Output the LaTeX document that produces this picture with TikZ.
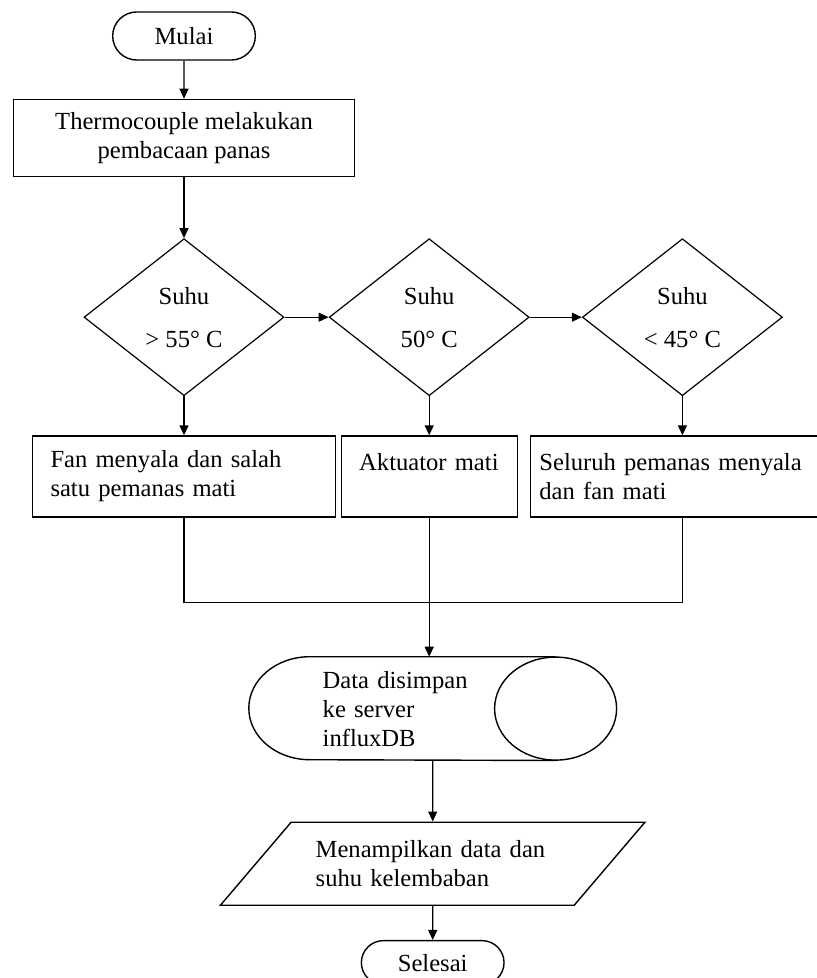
\documentclass[tikz,border=0pt]{standalone}
\usepackage{fontspec}
\setmainfont{Liberation Serif}
\usetikzlibrary{shapes.geometric, shapes.misc, arrows.meta, positioning, calc}

\begin{document}
\begin{tikzpicture}[
    node distance=19pt and 22pt,
    every node/.style={font=\fontsize{12.3}{14.5}\selectfont},
    terminal/.style={rounded rectangle, draw, line width=0.7pt, minimum width=78pt, minimum height=24pt, align=center},
    process/.style={rectangle, draw, line width=0.7pt, minimum width=170.5pt, minimum height=38.5pt, align=center},
    decision/.style={diamond, draw, line width=0.6pt, minimum width=100pt, minimum height=78.5pt, inner sep=0pt, align=center},
    action/.style={rectangle, draw, line width=0.7pt, minimum height=40.5pt, inner xsep=9pt, align=left},
    storage/.style={rectangle, minimum width=183.5pt, minimum height=51.5pt, inner ysep=2pt, align=left},
    io/.style={trapezium, trapezium left angle=44, trapezium right angle=136, trapezium stretches=true, draw, line width=0.7pt, minimum width=212.5pt, minimum height=41.5pt, align=left},
    line/.style={line width=0.7pt},
    arrow/.style={-{Triangle[length=5pt, width=4.5pt]}, line width=0.7pt}
]
\useasboundingbox (0,0) rectangle (408.5pt,-489pt);

% Start and reading
\node[terminal] at (92pt,-18pt) (mulai) {Mulai};
\node[process, below=19pt of mulai] (baca) {Thermocouple melakukan\\pembacaan panas};

% Decisions
\node[decision, below=30.5pt of baca] (suhu_tinggi) {Suhu\\[7pt]> 55° C};
\node[decision, right=22pt of suhu_tinggi] (suhu_normal) {Suhu\\[7pt]50° C};
\node[decision, right=26pt of suhu_normal] (suhu_rendah) {Suhu\\[7pt]< 45° C};

% Actions
\node[action, text width=133.5pt, below=19.5pt of suhu_tinggi] (aksi_tinggi) {Fan menyala dan salah\\satu pemanas mati};
\node[action, text width=70pt, below=19.5pt of suhu_normal] (aksi_normal) {Aktuator mati\\\mbox{}};
\node[action, text width=135pt, inner xsep=4.5pt, below=19.5pt of suhu_rendah, xshift=-4pt] (aksi_rendah) {Seluruh pemanas menyala\\dan fan mati};
\coordinate[below=42.5pt of aksi_tinggi] (gabung);

% Storage (drawn as a lying cylinder round the text)
\node[storage, text width=110pt, below=69.5pt of aksi_normal, xshift=1.75pt] (simpan) {Data disimpan\\ke server\\influxDB};
\draw[line] ([xshift=-30.5pt]simpan.north east) -- ([xshift=30.5pt]simpan.north west)
    arc[start angle=90, end angle=270, x radius=30.5pt, y radius=25.75pt]
    -- ([xshift=-30.5pt]simpan.south east);
\draw[line] ([xshift=-30.5pt]simpan.east) ellipse[x radius=30.5pt, y radius=25.75pt];

% Output and end
\node[io, text width=117pt, below=30.5pt of simpan] (tampil) {Menampilkan data dan\\suhu kelembaban};
\node[terminal, minimum height=22pt, below=17pt of tampil] (selesai) {Selesai};

% Arrows
\draw[arrow] (mulai) -- (baca);
\draw[arrow] (baca) -- (suhu_tinggi);
\draw[arrow] (suhu_tinggi) -- (suhu_normal);
\draw[arrow] (suhu_normal) -- (suhu_rendah);
\draw[arrow] (suhu_tinggi) -- (aksi_tinggi);
\draw[arrow] (suhu_normal) -- (aksi_normal);
\draw[arrow] (suhu_rendah.south) -- (suhu_rendah.south |- aksi_rendah.north);
\draw[line] (aksi_tinggi.south) -- (gabung) -| (suhu_rendah.south |- aksi_rendah.south);
\draw[arrow] (aksi_normal.south) -- (aksi_normal.south |- simpan.north);
\draw[arrow] (simpan) -- (tampil);
\draw[arrow] (tampil) -- (selesai);

\end{tikzpicture}
\end{document}
